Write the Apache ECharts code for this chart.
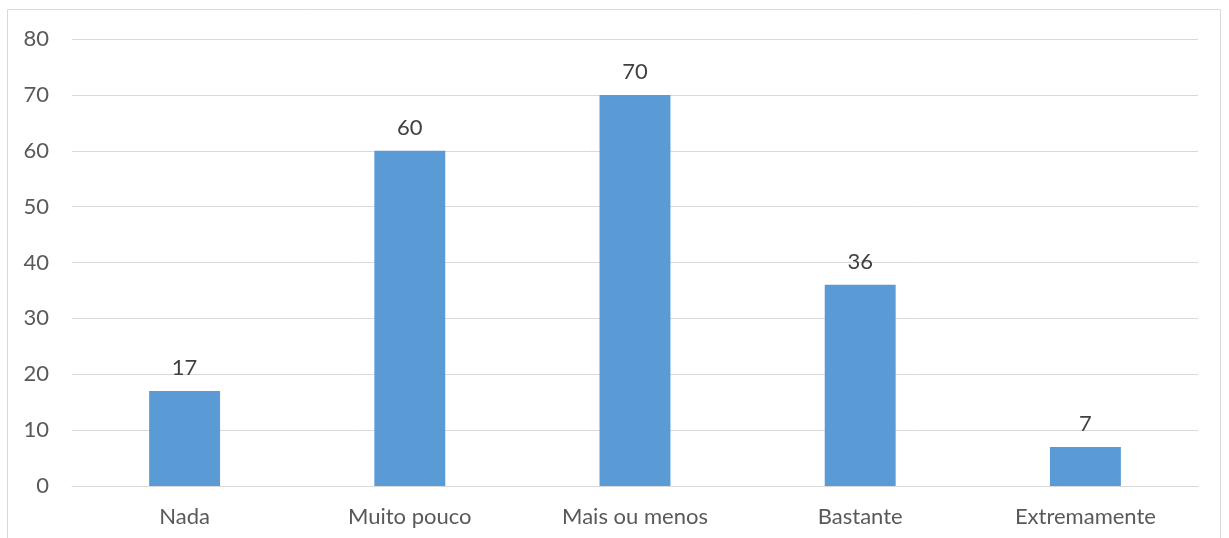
<!DOCTYPE html>
<html>
<head>
<meta charset="utf-8">
<script src="https://cdn.jsdelivr.net/npm/echarts@6/dist/echarts.min.js"></script>
<style>
    html, body { margin: 0; padding: 0; background: #fff; }
    #chart { width: 1229px; height: 538px; }
</style>
</head>
<body>
<div id="chart"></div>
<script>
var categories = ['Nada', 'Muito pouco', 'Mais ou menos', 'Bastante', 'Extremamente'];
var values = [17, 60, 70, 36, 7];
var yMin = 0, yMax = 80, yStep = 10;

var font = 'Lato';

var option = {
    animation: false,
    textStyle: { fontFamily: font },
    graphic: [{
        type: 'rect',
        shape: { x: 7.5, y: 9.5, width: 1213, height: 540 },
        style: { fill: 'none', stroke: '#d9d9d9', lineWidth: 1 }
    }],
    grid: {
        left: 72,
        right: 31,
        top: 39,
        bottom: 52
    },
    xAxis: {
        type: 'category',
        data: categories,
        axisTick: { show: false },
        axisLine: { lineStyle: { color: '#d9d9d9' } },
        axisLabel: { color: '#595959', fontSize: 22, margin: 20 }
    },
    yAxis: {
        type: 'value',
        min: yMin,
        max: yMax,
        interval: yStep,
        axisLine: { show: false },
        axisTick: { show: false },
        axisLabel: { color: '#595959', fontSize: 22, margin: 23 },
        splitLine: { lineStyle: { color: '#d9d9d9' } }
    },
    series: [{
        type: 'bar',
        data: values,
        barWidth: '31.5%',
        itemStyle: { color: '#5b9bd5' },
        label: {
            show: true,
            position: 'top',
            distance: 12,
            color: '#404040',
            fontSize: 22
        }
    }]
};

var myChart = echarts.init(document.getElementById('chart'));
myChart.setOption(option);
</script>
</body>
</html>
